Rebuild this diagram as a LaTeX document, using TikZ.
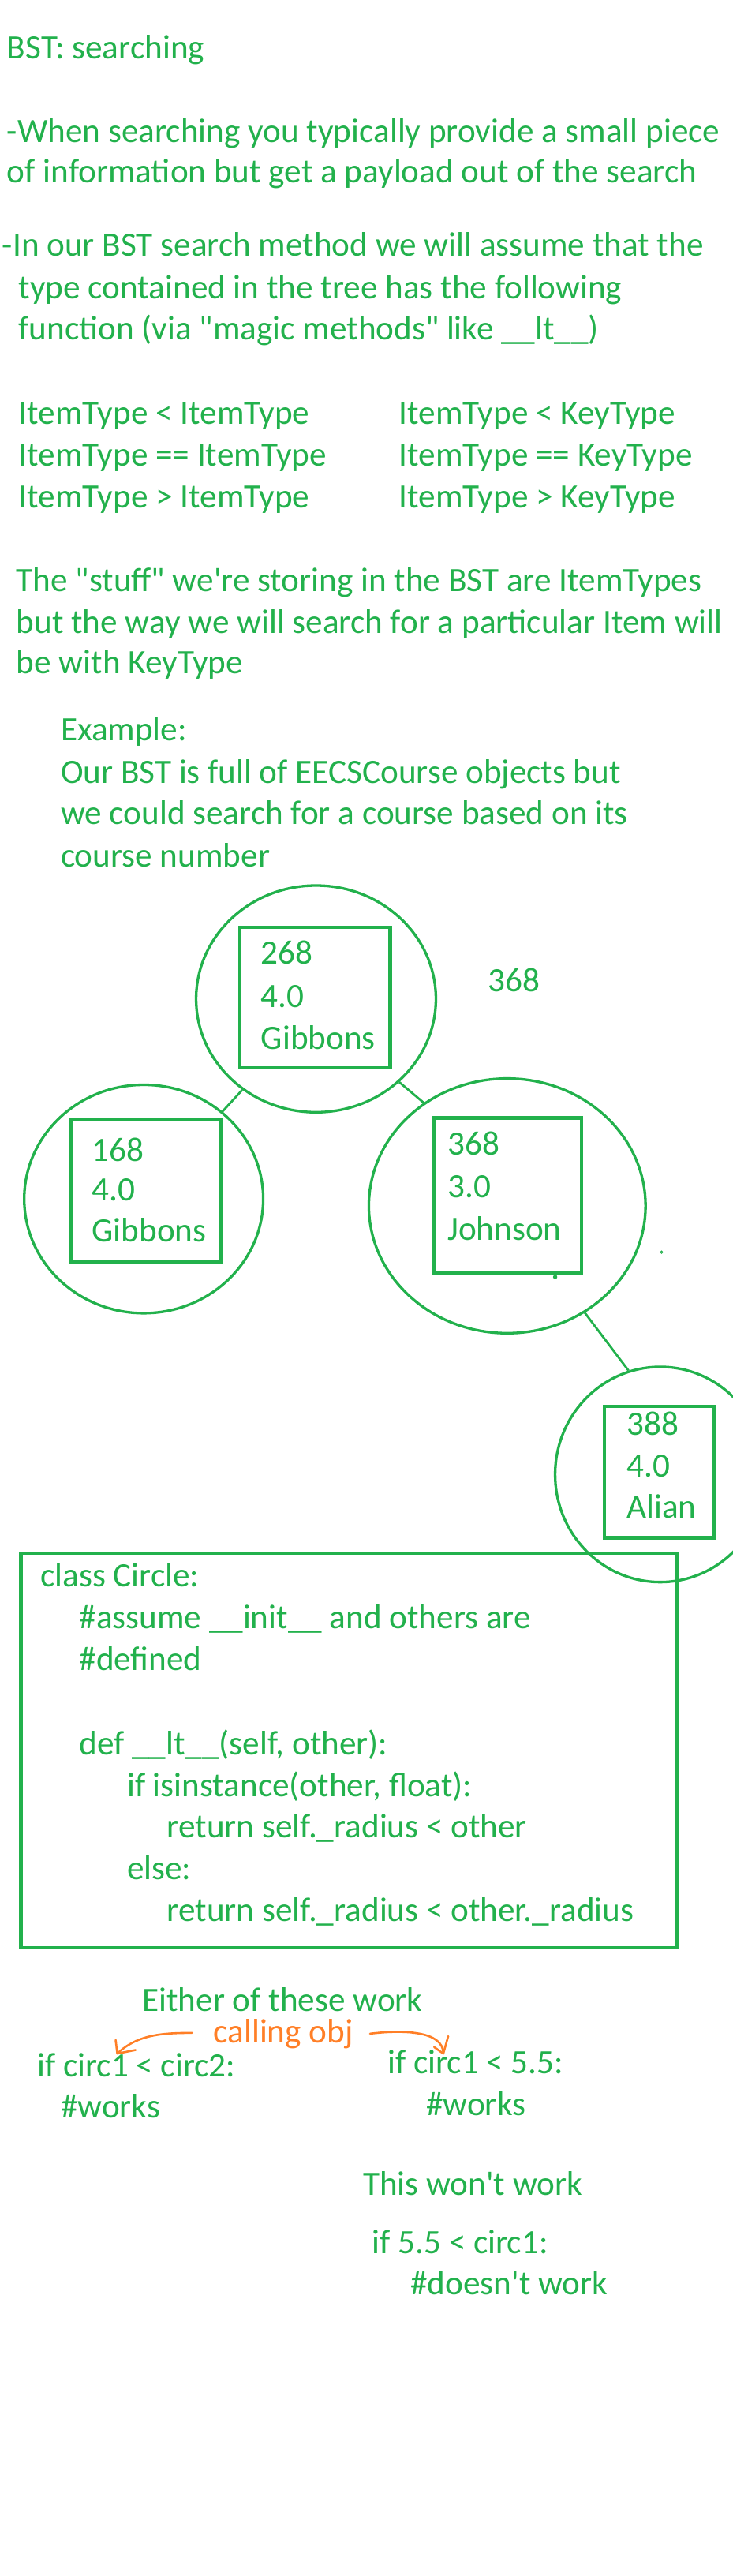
\documentclass[tikz,border=0pt]{standalone}
\usepackage{fontspec}
\newfontfamily\cf{Carlito}
\usetikzlibrary{shapes.geometric}
\definecolor{G}{HTML}{22B14C}
\definecolor{O}{HTML}{FF7F27}
\tikzset{
  txt/.style={anchor=base west, inner sep=0pt, outer sep=0pt, text=G, font=\cf\fontsize{43.2}{52}\selectfont},
  otxt/.style={txt, text=O},
  bstnode/.style={draw=G, line width=3.3pt, shape=ellipse, inner sep=0pt},
  itembox/.style={draw=G, line width=4.3pt},
  edge/.style={draw=G, line width=2.8pt},
  oarrow/.style={draw=O, line width=2.6pt, line cap=round, line join=round}
}
\begin{document}
\begin{tikzpicture}[x=2.081pt, y=-2.081pt]
\useasboundingbox (0,0) rectangle (446,1568);
\fill[white] (0,0) rectangle (446,1568);

% --- intro text
\node[txt] (t1) at (4.3,35.6) {BST: searching};
\node[txt] (t2) at (4.3,86.5) {-When searching you typically provide a small piece};
\node[txt] (t3) at (4.3,111.3) {of information but get a payload out of the search};
\node[txt] (t4) at (1.4,156) {-In our BST search method we will assume that the};
\node[txt] (t5) at (11.4,181.8) {type contained in the tree has the following};
\node[txt] (t6) at (11.4,206.6) {function (via "magic methods" like \_\_lt\_\_)};

\node[txt] (c1) at (11.4,258) {ItemType < ItemType};
\node[txt] (c2) at (11.4,283.5) {ItemType == ItemType};
\node[txt] (c3) at (11.4,309) {ItemType > ItemType};
\node[txt] (k1) at (243,258) {ItemType < KeyType};
\node[txt] (k2) at (243,283.5) {ItemType == KeyType};
\node[txt] (k3) at (243,309) {ItemType > KeyType};

\node[txt] (s1) at (10,360) {The "stuff" we're storing in the BST are ItemTypes};
\node[txt] (s2) at (10,385.4) {but the way we will search for a particular Item will};
\node[txt] (s3) at (10,410) {be with KeyType};

\node[txt] (e1) at (37,451) {Example:};
\node[txt] (e2) at (37,476.6) {Our BST is full of EECSCourse objects but};
\node[txt] (e3) at (37,502) {we could search for a course based on its};
\node[txt] (e4) at (37,527.5) {course number};

% --- tree
\node[bstnode, minimum width=303.8pt, minimum height=287.2pt] (root) at (192.4,608) {};
\node[bstnode, minimum width=302.8pt, minimum height=289.3pt] (left) at (87.5,729.8) {};
\node[bstnode, minimum width=350.6pt, minimum height=322.6pt] (right) at (308.8,734) {};
\node[bstnode, minimum width=266.4pt, minimum height=272.6pt] (rr) at (402,897.5) {};

\draw[edge] (root.-129) -- (left.48);
\draw[edge] (root.-45) -- (right.129);
\draw[edge] (right.-54) -- (rr.107);

\draw[itembox] (146,564.5) rectangle (237.5,650);
\draw[itembox] (43.3,681.8) rectangle (134.3,768.3);
\draw[itembox] (264,680.5) rectangle (354,775);
\draw[itembox] (368,856) rectangle (435,936);

\node[txt] (r1) at (159,587) {268};
\node[txt] (r2) at (159,613) {4.0};
\node[txt] (r3) at (159,638.7) {Gibbons};
\node[txt] (f1) at (297,603.5) {368};
\node[txt] (l1) at (56,706.7) {168};
\node[txt] (l2) at (56,731) {4.0};
\node[txt] (l3) at (56,756) {Gibbons};
\node[txt] (j1) at (272.5,703) {368};
\node[txt] (j2) at (272.5,729) {3.0};
\node[txt] (j3) at (272.5,755) {Johnson};
\node[txt] (a1) at (381.6,873.5) {388};
\node[txt] (a2) at (381.6,899) {4.0};
\node[txt] (a3) at (381.6,924) {Alian};

\fill[G] (338,777.3) circle (1.3);
\draw[G, line width=0.8pt] (402.8,762.2) circle (0.8);

% --- code box
\draw[itembox] (12.8,945.3) rectangle (412.3,1185.5);
\node[txt] (p1) at (24.7,966) {class Circle:};
\node[txt] (p2) at (48.3,991.2) {\#assume \_\_init\_\_ and others are};
\node[txt] (p3) at (48.3,1016.8) {\#defined};
\node[txt] (p4) at (48.3,1068.1) {def \_\_lt\_\_(self, other):};
\node[txt] (p5) at (77.4,1093.5) {if isinstance(other, float):};
\node[txt] (p6) at (101.8,1118.8) {return self.\_radius < other};
\node[txt] (p7) at (77.4,1144) {else:};
\node[txt] (p8) at (101.8,1169.3) {return self.\_radius < other.\_radius};

% --- bottom notes
\node[txt] (b1) at (86.7,1224.5) {Either of these work};
\node[otxt] (call) at (130,1243.5) {calling obj};
\node[txt] (b2) at (22.7,1264.3) {if circ1 < circ2:};
\node[txt] (b3) at (37,1289) {\#works};
\node[txt] (b4) at (236,1262) {if circ1 < 5.5:};
\node[txt] (b5) at (259.5,1287.5) {\#works};
\node[txt] (b6) at (221,1336.3) {This won't work};
\node[txt] (b7) at (226.6,1371.6) {if 5.5 < circ1:};
\node[txt] (b8) at (250,1396.7) {\#doesn't work};

\coordinate (ls) at (116.9,1237.4);
\coordinate (lt) at (71.4,1250);
\coordinate (rs) at (225.3,1237.9);
\coordinate (rt) at (269.9,1250);
\draw[oarrow] (ls) .. controls (100,1237.5) and (84,1238) .. (lt);
\draw[oarrow] (70.4,1241.7) -- (lt) -- (82.6,1247.8);
\draw[oarrow] (rs) .. controls (245,1235.5) and (270,1236) .. (rt);
\draw[oarrow] (264.3,1246) -- (rt) -- (272.9,1239.4);
\end{tikzpicture}
\end{document}
